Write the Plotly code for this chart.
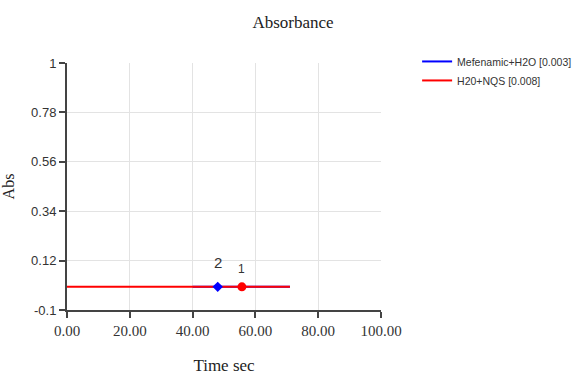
import plotly.graph_objects as go

# Absorbance readings over time (seconds)
mef_time = [40.0, 44.0, 48.0, 52.0, 60.0, 71.0]
mef_abs = [0.003, 0.003, 0.003, 0.003, 0.003, 0.003]

nqs_time = [0.0, 3.0, 20.0, 35.0, 45.0, 55.7, 64.0, 71.0]
nqs_abs = [0.004, 0.004, 0.003, 0.004, 0.004, 0.003, 0.004, 0.003]

mef_peak = (48.0, 0.003)
nqs_peak = (55.7, 0.003)

y_ticks = [-0.1, 0.12, 0.34, 0.56, 0.78, 1.0]
y_labels = ["-0.1", "0.12", "0.34", "0.56", "0.78", "1"]
x_ticks = [0, 20, 40, 60, 80, 100]
x_labels = ["0.00", "20.00", "40.00", "60.00", "80.00", "100.00"]

serif = "Liberation Serif, Times New Roman, serif"
sans = "Liberation Sans, Arial, sans-serif"

fig = go.Figure()
fig.add_trace(go.Scatter(x=mef_time, y=mef_abs, mode="lines", name="Mefenamic+H2O [0.003]",
                         line=dict(color="#0000ff", width=2)))
fig.add_trace(go.Scatter(x=nqs_time, y=nqs_abs, mode="lines", name="H20+NQS [0.008]",
                         line=dict(color="#ff0000", width=2)))
fig.add_trace(go.Scatter(x=[mef_peak[0]], y=[mef_peak[1]], mode="markers", showlegend=False,
                         marker=dict(color="#0000ff", size=8, symbol="diamond")))
fig.add_trace(go.Scatter(x=[nqs_peak[0]], y=[nqs_peak[1]], mode="markers", showlegend=False,
                         marker=dict(color="#ff0000", size=9, symbol="circle")))

fig.add_annotation(x=mef_peak[0], y=mef_peak[1], text="2", showarrow=False, yshift=24,
                   font=dict(family=sans, size=15, color="#333333"))
fig.add_annotation(x=nqs_peak[0], y=nqs_peak[1], text="1", showarrow=False, yshift=18,
                   font=dict(family=sans, size=12, color="#333333"))

fig.update_layout(
    width=586, height=375,
    margin=dict(l=67, r=205, t=63, b=65, autoexpand=False),
    paper_bgcolor="white", plot_bgcolor="white",
    title=dict(text="Absorbance", x=293 / 586, xanchor="center", y=1 - 22 / 375, yanchor="middle",
               font=dict(family=serif, size=17, color="#222222")),
    legend=dict(x=1.115, xanchor="left", y=1.065, yanchor="top", bgcolor="rgba(0,0,0,0)",
                font=dict(family=sans, size=10.5, color="#333333"), tracegroupgap=0, itemwidth=30),
    xaxis=dict(range=[0, 100], tickvals=x_ticks, ticktext=x_labels,
               showgrid=True, gridcolor="#e3e3e3", gridwidth=1, zeroline=False,
               showline=True, linecolor="#444444", linewidth=2,
               ticks="outside", ticklen=6, tickcolor="#444444", tickwidth=2,
               tickfont=dict(family=serif, size=15, color="#333333"),
               title=dict(text="Time sec", font=dict(family=serif, size=17, color="#222222"), standoff=22)),
    yaxis=dict(range=[-0.1, 1.0], tickvals=y_ticks, ticktext=y_labels,
               showgrid=True, gridcolor="#e3e3e3", gridwidth=1, zeroline=False,
               showline=True, linecolor="#444444", linewidth=2,
               ticks="outside", ticklen=6, tickcolor="#444444", tickwidth=2,
               tickfont=dict(family=sans, size=13, color="#333333"),
               title=dict(text="Abs", font=dict(family=serif, size=16, color="#222222"), standoff=12)),
)

fig.write_html("out.html")
